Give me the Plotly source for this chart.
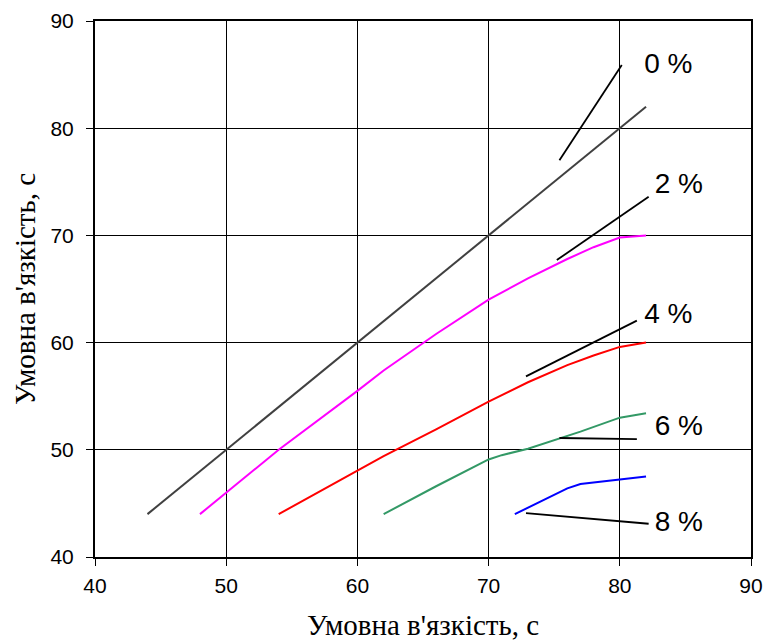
import plotly.graph_objects as go

# Series data (x: conditional viscosity, y: conditional viscosity)
x0 = [44, 82]
y0 = [44, 82]

x2 = [48, 50, 54, 60, 62, 66, 70, 73, 76, 78, 80, 82]
y2 = [44, 46, 50, 55.5, 57.4, 60.8, 64, 66, 67.8, 68.9, 69.8, 70]

x4 = [54, 60, 62, 66, 70, 73, 76, 78, 80, 82]
y4 = [44, 48, 49.4, 51.9, 54.5, 56.3, 57.9, 58.8, 59.6, 60]

x6 = [62, 66, 70, 71, 73, 77, 80, 82]
y6 = [44, 46.6, 49.1, 49.5, 50.1, 51.7, 53, 53.4]

x8 = [72, 74, 76, 77, 80, 82]
y8 = [44, 45.2, 46.4, 46.8, 47.2, 47.5]

series_names = ["0 %", "2 %", "4 %", "6 %", "8 %"]
series_colors = ["#404040", "#FF00FF", "#FF0000", "#339966", "#0000FF"]

# Leader lines (start x, start y, end x, end y) and label positions
leader_x = [[75.4, 80.15], [75.2, 82.2], [72.85, 81.3], [75.4, 81.3], [72.85, 82.2]]
leader_y = [[77.0, 85.9], [67.7, 73.6], [56.85, 62.05], [51.1, 51.0], [44.1, 43.1]]
label_x = [83.7, 84.5, 83.7, 84.5, 84.5]
label_y = [85.8, 74.6, 62.5, 52.0, 43.1]

xs = [x0, x2, x4, x6, x8]
ys = [y0, y2, y4, y6, y8]

fig = go.Figure()
for xv, yv, c, n in zip(xs, ys, series_colors, series_names):
    fig.add_trace(go.Scatter(x=xv, y=yv, mode="lines", name=n,
                             line=dict(color=c, width=2), showlegend=False))

for lx, ly in zip(leader_x, leader_y):
    fig.add_trace(go.Scatter(x=lx, y=ly, mode="lines",
                             line=dict(color="black", width=1.8), showlegend=False,
                             hoverinfo="skip"))

fig.add_trace(go.Scatter(x=label_x, y=label_y, mode="text", text=series_names,
                         textfont=dict(family="Liberation Sans, Arial", size=28, color="black"),
                         textposition="middle center", showlegend=False))

axis_common = dict(
    showgrid=True, gridcolor="black", gridwidth=1,
    showline=True, linecolor="black", linewidth=2, mirror=True,
    ticks="outside", ticklen=7, tickcolor="black", tickwidth=1,
    zeroline=False, automargin=False,
    tickfont=dict(family="Liberation Sans, Arial", size=21, color="black"),
)

title_font = dict(family="Liberation Serif, Times New Roman", size=29, color="black")

fig.update_xaxes(range=[40, 90], dtick=10, tick0=40, ticklabelstandoff=2,
                 title=dict(text="Умовна в'язкість, с", font=title_font, standoff=18),
                 **axis_common)
fig.update_yaxes(range=[40, 90], dtick=10, tick0=40, ticklabelstandoff=8,
                 title=dict(text="Умовна в'язкість, с", font=title_font, standoff=6),
                 **axis_common)

fig.update_layout(
    width=763, height=641,
    margin=dict(l=95, r=12, t=21, b=84),
    paper_bgcolor="white", plot_bgcolor="white",
)

fig.write_html("out.html")
